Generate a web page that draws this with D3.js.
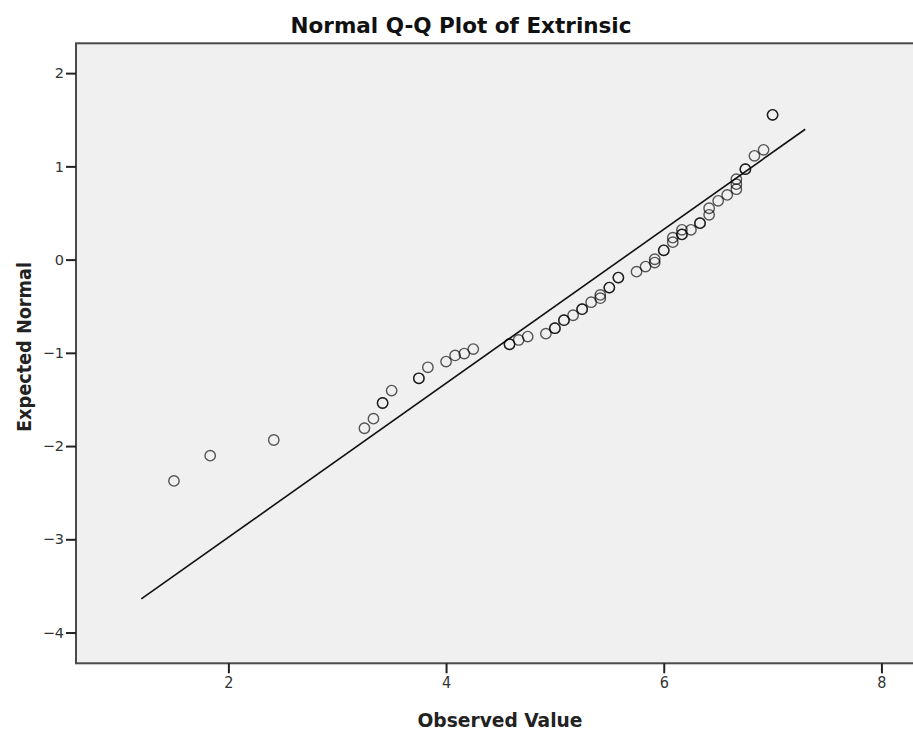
<!DOCTYPE html>
<html>
<head>
<meta charset="utf-8">
<script src="https://cdn.jsdelivr.net/npm/d3@7"></script>
<style>
  html, body { margin: 0; padding: 0; background: #ffffff; }
  svg { display: block; }
</style>
</head>
<body>
<svg id="chart" width="913" height="732"></svg>
<script>
// Observed scale scores (averages of 12 items) and their expected normal quantiles.
// Repeated entries are tied cases that plot on top of each other.
const observed = [
  1.5, 1.833, 2.417, 3.25, 3.333, 3.417, 3.417, 3.5, 3.75, 3.75,
  3.833, 4.0, 4.083, 4.167, 4.25, 4.583, 4.583, 4.667, 4.75, 4.917,
  5.0, 5.0, 5.083, 5.083, 5.167, 5.25, 5.25, 5.333, 5.417, 5.417,
  5.5, 5.5, 5.583, 5.583, 5.75, 5.833, 5.917, 5.917, 6.0, 6.0,
  6.083, 6.083, 6.167, 6.167, 6.167, 6.25, 6.333, 6.333, 6.417, 6.417,
  6.5, 6.583, 6.667, 6.667, 6.667, 6.75, 6.75, 6.833, 6.917, 7.0, 7.0
];
const expected = [
  -2.374, -2.103, -1.935, -1.809, -1.706, -1.538, -1.538, -1.405, -1.273, -1.273,
  -1.155, -1.094, -1.028, -1.008, -0.960, -0.908, -0.908, -0.862, -0.826, -0.794,
  -0.736, -0.736, -0.650, -0.650, -0.597, -0.532, -0.532, -0.457, -0.414, -0.379,
  -0.300, -0.300, -0.193, -0.193, -0.129, -0.075, -0.032, 0.004, 0.099, 0.099,
  0.187, 0.235, 0.270, 0.270, 0.319, 0.319, 0.391, 0.391, 0.480, 0.551,
  0.630, 0.694, 0.755, 0.809, 0.863, 0.970, 0.970, 1.113, 1.177, 1.553, 1.553
];

// Reference line of the fitted normal: expected = (observed - mean) / sd
const lineMean = 5.607;
const lineSD = 1.211;
const lineFrom = [1.2, 7.3];

const xTicks = [2, 4, 6, 8];
const yTicks = [2, 1, 0, -1, -2, -3, -4];

const chartTitle = "Normal Q-Q Plot of Extrinsic";
const xTitle = "Observed Value";
const yTitle = "Expected Normal";

const svg = d3.select("#chart");
const plot = { left: 76, top: 43.3, right: 916, bottom: 663.3 };

const x = d3.scaleLinear().domain([0.6, 8.29]).range([plot.left, 913]);
const y = d3.scaleLinear().domain([-4.33, 2.32]).range([plot.bottom, plot.top]);

const condensed = "'DejaVu Sans Condensed', 'DejaVu Sans', sans-serif";

// plot area
svg.append("rect")
  .attr("x", plot.left).attr("y", plot.top)
  .attr("width", plot.right - plot.left).attr("height", plot.bottom - plot.top)
  .attr("fill", "#f0f0f0")
  .attr("stroke", "#4a4a4a").attr("stroke-width", 2);

// axes
const xAxis = d3.axisBottom(x).tickValues(xTicks).tickSize(10).tickSizeOuter(0).tickPadding(3)
  .tickFormat(d3.format("d"));
const gx = svg.append("g").attr("transform", `translate(0,${plot.bottom})`).call(xAxis);
gx.select(".domain").remove();
gx.selectAll(".tick line").attr("stroke", "#222").attr("stroke-width", 2);
gx.selectAll(".tick text")
  .attr("font-family", condensed)
  .attr("font-size", 16).attr("fill", "#333");

const yAxis = d3.axisLeft(y).tickValues(yTicks).tickSize(10).tickSizeOuter(0).tickPadding(2)
  .tickFormat(d => d < 0 ? "\u2212" + Math.abs(d) : String(d));
const gy = svg.append("g").attr("transform", `translate(${plot.left},0)`).call(yAxis);
gy.select(".domain").remove();
gy.selectAll(".tick line").attr("stroke", "#222").attr("stroke-width", 2);
gy.selectAll(".tick text")
  .attr("font-family", "'DejaVu Sans', sans-serif")
  .attr("font-size", 14.5).attr("fill", "#333");

// reference line
svg.append("line")
  .attr("x1", x(lineFrom[0])).attr("y1", y((lineFrom[0] - lineMean) / lineSD))
  .attr("x2", x(lineFrom[1])).attr("y2", y((lineFrom[1] - lineMean) / lineSD))
  .attr("stroke", "#111").attr("stroke-width", 1.6);

// points
const pts = observed.map((v, i) => ({ x: v, y: expected[i] }));
svg.append("g").selectAll("circle").data(pts).join("circle")
  .attr("cx", d => x(d.x)).attr("cy", d => y(d.y)).attr("r", 5.2)
  .attr("fill", "none").attr("stroke", "#000").attr("stroke-opacity", 0.65)
  .attr("stroke-width", 1.4);

// titles
svg.append("text")
  .attr("x", 461).attr("y", 33).attr("text-anchor", "middle")
  .attr("font-family", condensed)
  .attr("font-weight", "bold").attr("font-size", 22).attr("fill", "#111")
  .attr("textLength", 341).attr("lengthAdjust", "spacingAndGlyphs")
  .text(chartTitle);

svg.append("text")
  .attr("x", 500).attr("y", 727).attr("text-anchor", "middle")
  .attr("font-family", condensed)
  .attr("font-weight", "bold").attr("font-size", 20).attr("fill", "#222")
  .attr("textLength", 165).attr("lengthAdjust", "spacingAndGlyphs")
  .text(xTitle);

svg.append("text")
  .attr("transform", "translate(31,347) rotate(-90)").attr("text-anchor", "middle")
  .attr("font-family", condensed)
  .attr("font-weight", "bold").attr("font-size", 20).attr("fill", "#222")
  .attr("textLength", 170).attr("lengthAdjust", "spacingAndGlyphs")
  .text(yTitle);
</script>
</body>
</html>
